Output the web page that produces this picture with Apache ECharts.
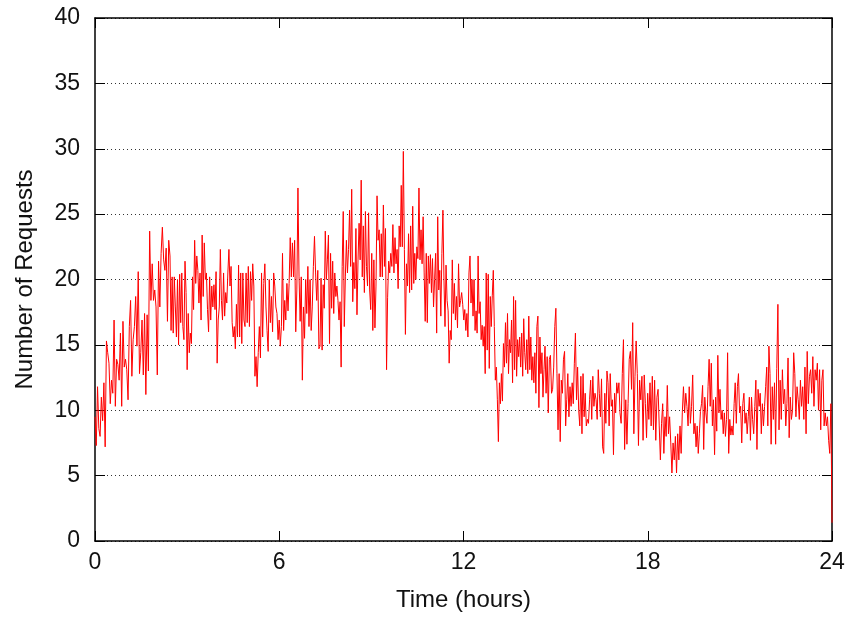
<!DOCTYPE html>
<html>
<head>
<meta charset="utf-8">
<script src="https://cdn.jsdelivr.net/npm/echarts@6/dist/echarts.min.js"></script>
<style>
html,body{margin:0;padding:0;background:#fff;}
#chart{width:851px;height:620px;}
</style>
</head>
<body>
<div id="chart"></div>
<script>
// Tick labels
const xTicks = [0, 6, 12, 18, 24];
const yTicks = [0, 5, 10, 15, 20, 25, 30, 35, 40];

// Requests per sample in consecutive time blocks
// (each block spans 24*75/737 hours; the last block ends at 24 h)
const block0 = [9.5,7.3,11.8,8.6,8.0,11.0,9.2,12.1,7.2,15.3,14.4,13.6,10.5,12.3,11.3,16.9,10.3,13.9,13.5,12.3,15.9,10.3,16.8,13.3,13.9,13.1,10.8,16.4,18.4,12.6,15.4,16.4,18.7,14.9,20.6,12.8,14.4,16.9,12.7,17.4,11.2,17.3,13.0,23.7,18.4,21.2,18.4,19.2,17.9,12.7,21.4,17.9,22.0,24.0,21.5,20.7,22.4,16.8,23.0];
const block1 = [21.8,16.1,20.2,15.9,20.2,17.9,15.6,20.0,15.0,20.4,16.7,20.5,16.4,15.4,21.4,19.0,13.1,17.4,14.4,15.9,15.1,20.2,17.7,23.0,19.7,21.8,20.7,18.2,20.5,16.9,23.4,18.7,22.8,20.0,20.5,17.7,16.0,20.2,16.9,19.5,17.9,19.6,17.7,20.6,13.6,16.9,17.9,22.3,18.4,16.9,20.5,17.2,19.0,18.2,20.5,22.3,19.5,21.0,16.7,15.6,16.4,14.7,18.1,15.6,21.1,15.6,20.5,15.1,20.5,16.9];
const block2 = [16.4,20.5,16.7,21.0,16.4,20.6,18.4,21.2,19.5,12.6,14.1,11.8,14.4,16.4,14.0,20.5,15.6,19.7,21.2,17.9,16.1,14.5,20.0,16.7,18.7,16.0,20.5,19.5,17.9,17.4,15.4,16.9,14.9,16.4,22.0,16.1,18.4,16.9,19.7,17.6,19.7,23.2,20.2,22.8,20.2,23.0,16.0,19.2,27.0,20.2,16.8,20.2,12.3,17.9,15.5,20.0,17.4,21.0,16.4,20.0,16.1,17.9,21.0,23.3,20.5,18.4,20.7,14.7];
const block3 = [14.9,20.1,14.6,19.6,17.8,23.7,20.0,21.5,23.4,15.1,22.0,17.8,21.4,17.4,20.5,18.7,19.5,18.4,16.9,18.3,13.3,21.0,25.2,16.4,20.2,23.0,20.5,22.3,25.3,21.0,26.9,18.3,21.3,19.3,23.9,17.3,21.5,24.3,21.5,27.6,20.2,24.1,19.0,25.2,21.0,19.5,25.1,19.2,17.7,22.0,16.1,21.5,16.3,19.5,26.4,23.0,23.8,20.2,23.5,20.2,25.7,21.0,23.9,13.1,18.6,21.4,20.5,22.0,21.0,24.2,20.5];
const block4 = [23.2,21.2,22.3,19.3,24.1,22.5,27.2,22.5,29.8,22.3,15.8,21.2,19.5,23.5,19.0,24.1,19.2,25.6,19.7,22.0,20.0,22.5,21.6,27.0,21.5,23.8,21.2,24.8,20.5,16.8,22.0,16.7,21.8,19.7,21.9,19.0,21.6,17.9,20.0,22.0,15.9,24.8,19.2,20.7,17.2,22.0,25.3,20.0,16.4,21.1,18.4,17.6,13.6,16.1,15.4,21.5,17.4,19.7,16.9,18.7,16.3,21.2,17.9,18.4,19.0,18.1,16.9,17.7,16.1,17.4,15.6,20.5];
const block5 = [21.8,18.2,20.0,17.2,20.0,16.1,17.6,15.9,21.8,17.4,18.3,15.4,16.5,14.9,16.4,12.8,20.5,14.6,20.4,13.2,18.7,16.4,18.8,20.7,16.4,12.3,13.3,10.8,7.6,12.1,10.5,12.8,10.7,15.1,13.3,16.7,13.6,17.4,12.8,15.4,14.4,16.9,12.1,18.7,13.1,18.4,12.6,15.4,14.1,15.6,13.3,15.9,12.6,17.0,14.4,13.1,15.4,12.8,17.2,13.1,15.6,12.3,14.1,12.1,14.4,11.3,16.4,17.2,10.2,15.6,12.8,14.4,11.0,13.1];
const block6 = [14.9,11.3,14.1,9.8,13.9,14.2,11.3,11.6,13.3,16.4,17.8,12.8,8.5,12.8,7.6,12.3,11.3,13.9,14.5,8.8,10.8,12.8,9.5,11.8,10.3,12.1,10.5,13.6,15.9,10.8,13.3,10.0,8.8,12.6,8.2,12.8,9.5,11.3,8.8,9.3,9.0,10.8,12.3,9.3,12.6,10.3,11.3,10.8,9.3,13.1,11.3,9.5,12.4,7.2,6.7,11.3,9.0,13.0,12.1,8.8,12.8,10.3,10.8,6.6,11.3,9.8,12.1,11.3,12.1];
const block7 = [9.8,9.0,12.8,15.4,7.0,10.8,7.4,10.5,13.9,14.5,11.6,16.7,8.2,12.6,15.3,12.8,7.3,12.3,10.8,12.6,7.7,12.7,10.5,7.9,11.3,9.3,12.1,8.8,12.6,8.5,12.3,7.7,11.0,11.6,8.8,6.2,9.0,10.5,6.7,9.5,8.0,11.9,8.2,9.5,7.5,5.2,7.5,6.2,8.0,5.2,8.2,6.2,8.8,6.7,9.8,11.8,9.8,11.3,10.3,8.8,11.8,9.0,10.3,12.7,8.2];
const block8 = [9.0,7.2,8.8,6.7,8.2,9.9,10.5,11.9,7.0,11.0,9.8,9.0,11.8,13.9,10.3,13.6,8.8,10.8,6.6,11.0,8.4,14.2,9.8,11.6,9.3,10.0,8.2,9.8,8.0,9.3,14.4,6.7,9.3,8.1,8.8,8.1,10.5,12.1,9.0,11.8,12.8,9.8,10.3,7.5,10.5,11.3,9.0,9.8,8.2,9.5,11.0,7.7,11.0,9.3,8.2,10.3,12.3,7.0,11.6,10.3,11.3,8.2,10.5,8.8,10.3,11.8,13.3,8.8,14.9];
const block9 = [12.8,7.4,11.8,9.3,12.1,7.4,13.2,18.1,8.5,12.3,9.3,13.1,10.5,11.6,8.8,10.5,14.0,7.9,11.0,9.3,10.0,14.4,12.8,9.5,11.8,10.8,9.3,12.3,10.3,11.8,9.3,13.3,8.2,14.5,10.5,12.6,13.1,11.3,14.1,10.3,13.1,12.3,13.6,10.0,13.1,8.5,12.3,13.1,8.8,9.8,8.8,9.5,7.7,6.7,10.5,1.4];

const blocks = [block0, block1, block2, block3, block4, block5, block6, block7, block8, block9];
const blockHours = 24 * 75 / 737;

const seriesData = [];
blocks.forEach(function (vals, k) {
  const start = k * blockHours;
  const last = k === blocks.length - 1;
  const span = last ? 24 - start : blockHours;
  const n = last ? vals.length - 1 : vals.length;
  vals.forEach(function (v, i) {
    seriesData.push([start + i * span / n, v]);
  });
});

const FONT = 'Liberation Sans, Arial, Helvetica, sans-serif';
const chart = echarts.init(document.getElementById('chart'), null, {renderer: 'canvas'});
const axisLineStyle = {color: '#000', width: 1.5};

chart.setOption({
  animation: false,
  backgroundColor: '#fff',
  grid: {left: 95, right: 19, top: 18, bottom: 79, containLabel: false},
  xAxis: [{
    type: 'value', min: xTicks[0], max: xTicks[xTicks.length - 1], interval: 6,
    name: 'Time (hours)', nameLocation: 'middle', nameGap: 47,
    nameTextStyle: {fontFamily: FONT, fontSize: 24, color: '#111'},
    axisLine: {show: true, onZero: false, lineStyle: axisLineStyle},
    axisTick: {show: true, inside: true, length: 10, lineStyle: {color: '#000', width: 1}},
    axisLabel: {fontFamily: FONT, fontSize: 23, color: '#111', margin: 10},
    splitLine: {show: false}
  }, {
    type: 'value', position: 'top', min: 0, max: 24, interval: 6,
    axisLine: {show: true, onZero: false, lineStyle: axisLineStyle},
    axisTick: {show: true, inside: true, length: 10, lineStyle: {color: '#000', width: 1}},
    axisLabel: {show: false}, splitLine: {show: false}
  }],
  yAxis: [{
    type: 'value', min: yTicks[0], max: yTicks[yTicks.length - 1], interval: 5,
    name: 'Number of Requests', nameLocation: 'middle', nameGap: 58,
    nameTextStyle: {fontFamily: FONT, fontSize: 24, color: '#111'},
    axisLine: {show: true, onZero: false, lineStyle: axisLineStyle},
    axisTick: {show: true, inside: true, length: 10, lineStyle: {color: '#000', width: 1}},
    axisLabel: {fontFamily: FONT, fontSize: 23, color: '#111', margin: 15},
    splitLine: {show: true, lineStyle: {color: '#333', width: 1, type: [1, 3]}}
  }, {
    type: 'value', position: 'right', min: 0, max: 40, interval: 5,
    axisLine: {show: true, onZero: false, lineStyle: axisLineStyle},
    axisTick: {show: true, inside: true, length: 10, lineStyle: {color: '#000', width: 1}},
    axisLabel: {show: false}, splitLine: {show: false}
  }],
  series: [{
    type: 'line', data: seriesData, xAxisIndex: 0, yAxisIndex: 0,
    showSymbol: false, symbol: 'none',
    lineStyle: {color: '#ff0000', width: 1},
    z: 3
  }]
});
</script>
</body>
</html>
